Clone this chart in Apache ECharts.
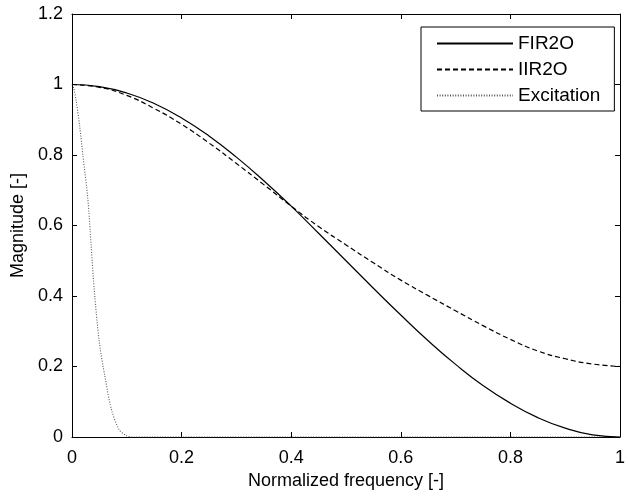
<!DOCTYPE html>
<html>
<head>
<meta charset="utf-8">
<script src="https://cdn.jsdelivr.net/npm/echarts@6/dist/echarts.min.js"></script>
<style>
html,body{margin:0;padding:0;background:#fff;}
#chart{width:628px;height:501px;}
</style>
</head>
<body>
<div id="chart"></div>
<script>
// Normalized frequency grid for the two filter curves
const freq = [0, 0.05, 0.10, 0.15, 0.20, 0.25, 0.30, 0.35, 0.40, 0.45, 0.50,
              0.55, 0.60, 0.65, 0.70, 0.75, 0.80, 0.85, 0.90, 0.95, 1.00];
const fir2o = [1.000, 0.994, 0.976, 0.946, 0.905, 0.854, 0.794, 0.727, 0.655, 0.578, 0.500,
               0.422, 0.346, 0.273, 0.206, 0.146, 0.096, 0.055, 0.025, 0.006, 0.000];
const iir2o = [1.000, 0.992, 0.969, 0.932, 0.887, 0.834, 0.776, 0.716, 0.655, 0.597, 0.545,
               0.494, 0.445, 0.401, 0.358, 0.316, 0.277, 0.244, 0.222, 0.207, 0.200];
// Excitation curve
const excFreq = [0, 0.003, 0.008, 0.014, 0.020, 0.029, 0.035, 0.041, 0.050, 0.060, 0.072, 0.086, 0.100, 0.110, 0.200, 0.400, 0.600, 0.800, 1.000];
const excMag  = [1.000, 0.990, 0.950, 0.882, 0.797, 0.674, 0.541, 0.409, 0.267, 0.172, 0.078, 0.021, 0.003, 0.000, 0.000, 0.000, 0.000, 0.000, 0.000];

const seriesNames = ['FIR2O', 'IIR2O', 'Excitation'];
const xTitle = 'Normalized frequency [-]';
const yTitle = 'Magnitude [-]';

const FONT = '"Liberation Sans", Arial, sans-serif';
const pairs = (xs, ys) => xs.map((x, i) => [x, ys[i]]);

const chart = echarts.init(document.getElementById('chart'), null, {renderer: 'canvas'});
function axisBase() {
  return {
    type: 'value',
    axisLine: {show: true, onZero: false, lineStyle: {color: '#000', width: 1}},
    axisTick: {show: true, inside: false, length: -5, lineStyle: {color: '#000', width: 1}},
    splitLine: {show: false}
  };
}
chart.setOption({
  animation: false,
  backgroundColor: '#fff',
  grid: {left: 72, top: 14, right: 1, bottom: 64, containLabel: false},
  xAxis: [
    Object.assign(axisBase(), {
      position: 'bottom', min: 0, max: 1, interval: 0.2,
      axisLabel: {color: '#000', fontFamily: FONT, fontSize: 18, margin: 12},
      name: xTitle, nameLocation: 'middle', nameGap: 31,
      nameTextStyle: {color: '#000', fontFamily: FONT, fontSize: 18}
    }),
    Object.assign(axisBase(), {
      position: 'top', min: 0, max: 1, interval: 0.2,
      axisLabel: {show: false}
    })
  ],
  yAxis: [
    Object.assign(axisBase(), {
      position: 'left', min: 0, max: 1.2, interval: 0.2,
      axisLabel: {color: '#000', fontFamily: FONT, fontSize: 18, margin: 9},
      name: yTitle, nameLocation: 'middle', nameGap: 44,
      nameTextStyle: {color: '#000', fontFamily: FONT, fontSize: 18}
    }),
    Object.assign(axisBase(), {
      position: 'right', min: 0, max: 1.2, interval: 0.2,
      axisLabel: {show: false}
    })
  ],
  legend: {
    orient: 'vertical', left: 421, top: 27,
    backgroundColor: '#fff', borderColor: '#000', borderWidth: 1, borderRadius: 0,
    padding: [7, 14, 6, 15], itemGap: 7, itemWidth: 76, itemHeight: 18,
    itemStyle: {opacity: 0},
    textStyle: {color: '#000', fontFamily: FONT, fontSize: 19},
    data: seriesNames
  },
  series: [
    {name: seriesNames[0], type: 'line', data: pairs(freq, fir2o), smooth: true, symbol: 'none',
     lineStyle: {color: '#000', width: 1.2, type: 'solid'}, itemStyle: {color: '#000', opacity: 0}, z: 3},
    {name: seriesNames[1], type: 'line', data: pairs(freq, iir2o), smooth: true, symbol: 'none',
     lineStyle: {color: '#000', width: 1.2, type: [5, 3]}, itemStyle: {color: '#000', opacity: 0}, z: 2},
    {name: seriesNames[2], type: 'line', data: pairs(excFreq, excMag), smooth: 0.3, symbol: 'none',
     lineStyle: {color: '#555', width: 1.1, type: [1, 1.6]}, itemStyle: {color: '#555', opacity: 0}, z: 1}
  ]
});
</script>
</body>
</html>
